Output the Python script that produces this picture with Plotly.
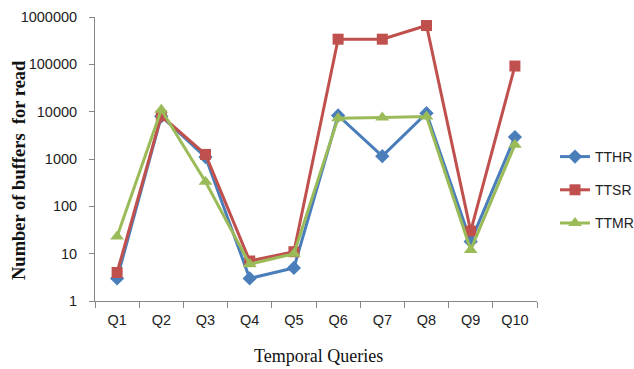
import plotly.graph_objects as go

queries = ["Q1", "Q2", "Q3", "Q4", "Q5", "Q6", "Q7", "Q8", "Q9", "Q10"]
tthr = [3, 8000, 1100, 3, 5, 8300, 1150, 9300, 18, 2900]
ttsr = [4, 8200, 1250, 7, 11, 340000, 340000, 660000, 30, 92000]
ttmr = [23, 11000, 330, 6, 10, 7300, 7500, 7900, 12, 2000]
ytick_vals = [1, 10, 100, 1000, 10000, 100000, 1000000]
ytick_text = ["1", "10", "100", "1000", "10000", "100000", "1000000"]

series = [
    ("TTHR", tthr, "#4A7EBB", "diamond", 11),
    ("TTSR", ttsr, "#C0504D", "square", 11),
    ("TTMR", ttmr, "#9BBB59", "triangle-up", 12),
]

fig = go.Figure()
for name, vals, color, symbol, size in series:
    fig.add_trace(go.Scatter(
        x=queries, y=vals, name=name, mode="lines+markers",
        legendgroup=name,
        line=dict(color=color, width=3),
        marker=dict(symbol=symbol, size=size, color=color),
    ))

tick_font = dict(family="Liberation Sans, Arial, sans-serif", size=14.5, color="#222222")
serif = "Liberation Serif, Times New Roman, serif"

fig.update_layout(
    width=634, height=369,
    margin=dict(l=95, r=97, t=17, b=68, autoexpand=False),
    paper_bgcolor="white", plot_bgcolor="white",
    showlegend=True,
    legend=dict(
        xref="container", yref="container",
        x=555 / 634, y=1 - 190 / 369, xanchor="left", yanchor="middle",
        font=dict(family="Liberation Sans, Arial, sans-serif", size=14, color="#222222"),
        tracegroupgap=12, itemwidth=30, bgcolor="rgba(0,0,0,0)",
    ),
    xaxis=dict(
        type="category", tickson="boundaries", range=[-0.5, len(queries) - 0.5],
        showline=True, linecolor="#868686", linewidth=1,
        ticks="outside", ticklen=6, tickcolor="#868686",
        showgrid=False, zeroline=False,
        tickfont=tick_font, ticklabelstandoff=6,
    ),
    yaxis=dict(
        type="log", range=[0, 6],
        tickvals=ytick_vals, ticktext=ytick_text,
        showline=True, linecolor="#868686", linewidth=1,
        ticks="outside", ticklen=5, tickcolor="#868686",
        showgrid=False, zeroline=False,
        tickfont=tick_font, ticklabelstandoff=9,
    ),
    annotations=[
        dict(text="Temporal Queries", xref="paper", yref="paper",
             x=(318 - 95) / 442, y=-(356 - 301) / 284,
             xanchor="center", yanchor="middle", showarrow=False,
             font=dict(family=serif, size=18, color="#111111")),
        dict(text="<b>Number of buffers\u00a0 for read</b>", xref="paper", yref="paper",
             x=-(95 - 19) / 442, y=(301 - 170) / 284, textangle=-90,
             xanchor="center", yanchor="middle", showarrow=False,
             font=dict(family=serif, size=18.5, color="#111111")),
    ],
)

fig.write_html("out.html")
